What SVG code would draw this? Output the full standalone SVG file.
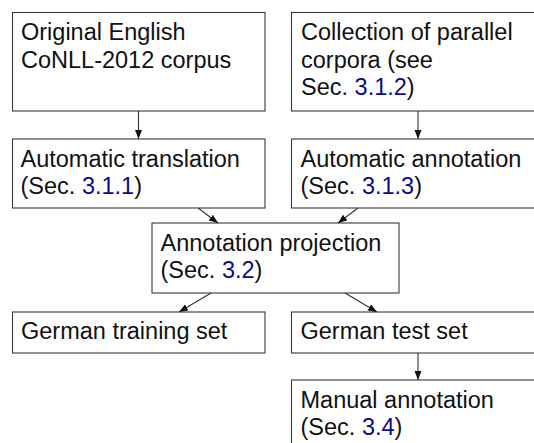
<svg xmlns="http://www.w3.org/2000/svg" width="534" height="443" viewBox="0 0 534 443">
<defs>
<style>
.box{fill:#fff;stroke:#3a3a3a;stroke-width:1.1}
.t{font-family:"Liberation Sans",Arial,sans-serif;font-size:23.5px;fill:#111}
.ref{fill:#0a0a8c}
.c{stroke:#333;stroke-width:1.1;fill:none;marker-end:url(#ah)}
</style>
<marker id="ah" markerUnits="userSpaceOnUse" markerWidth="10" markerHeight="8" refX="9" refY="3.5" orient="auto">
<path d="M0,0 L9,3.5 L0,7 Z" fill="#111"/>
</marker>
</defs>
<rect width="534" height="443" fill="#fff"/>
<g id="n1"><rect class="box" x="12.5" y="12.5" width="252.5" height="98.5"/>
<text class="t" x="21" y="40">Original English</text>
<text class="t" x="21" y="67.5">CoNLL-2012 corpus</text></g>
<g id="n2"><rect class="box" x="291.5" y="12.5" width="253" height="98.5"/>
<text class="t" x="301" y="40">Collection of parallel</text>
<text class="t" x="301" y="67.5">corpora (see</text>
<text class="t" x="301" y="95">Sec. <tspan class="ref">3.1.2</tspan>)</text></g>
<g id="n3"><rect class="box" x="12.5" y="139" width="252.5" height="69"/>
<text class="t" x="20.5" y="166.5">Automatic translation</text>
<text class="t" x="20.5" y="194">(Sec. <tspan class="ref">3.1.1</tspan>)</text></g>
<g id="n4"><rect class="box" x="291.5" y="139" width="253" height="69"/>
<text class="t" x="300.5" y="166.5">Automatic annotation</text>
<text class="t" x="300.5" y="194">(Sec. <tspan class="ref">3.1.3</tspan>)</text></g>
<g id="n5"><rect class="box" x="152" y="223" width="247" height="70"/>
<text class="t" x="160.5" y="250.5">Annotation projection</text>
<text class="t" x="160.5" y="278">(Sec. <tspan class="ref">3.2</tspan>)</text></g>
<g id="n6"><rect class="box" x="12.5" y="312" width="252.5" height="41"/>
<text class="t" x="21" y="339">German training set</text></g>
<g id="n7"><rect class="box" x="291.5" y="312" width="253" height="41"/>
<text class="t" x="300.5" y="339">German test set</text></g>
<g id="n8"><rect class="box" x="291.5" y="380" width="253" height="80"/>
<text class="t" x="300.5" y="407.5">Manual annotation</text>
<text class="t" x="300.5" y="435">(Sec. <tspan class="ref">3.4</tspan>)</text></g>
<g id="connectors">
<line class="c" x1="138.5" y1="111" x2="138.5" y2="139"/>
<line class="c" x1="418" y1="111" x2="418" y2="139"/>
<line class="c" x1="198" y1="208" x2="218" y2="223"/>
<line class="c" x1="358" y1="208" x2="338" y2="223"/>
<line class="c" x1="211" y1="293" x2="179" y2="312"/>
<line class="c" x1="345" y1="293" x2="377" y2="312"/>
<line class="c" x1="418" y1="353" x2="418" y2="380"/>
</g>
</svg>
